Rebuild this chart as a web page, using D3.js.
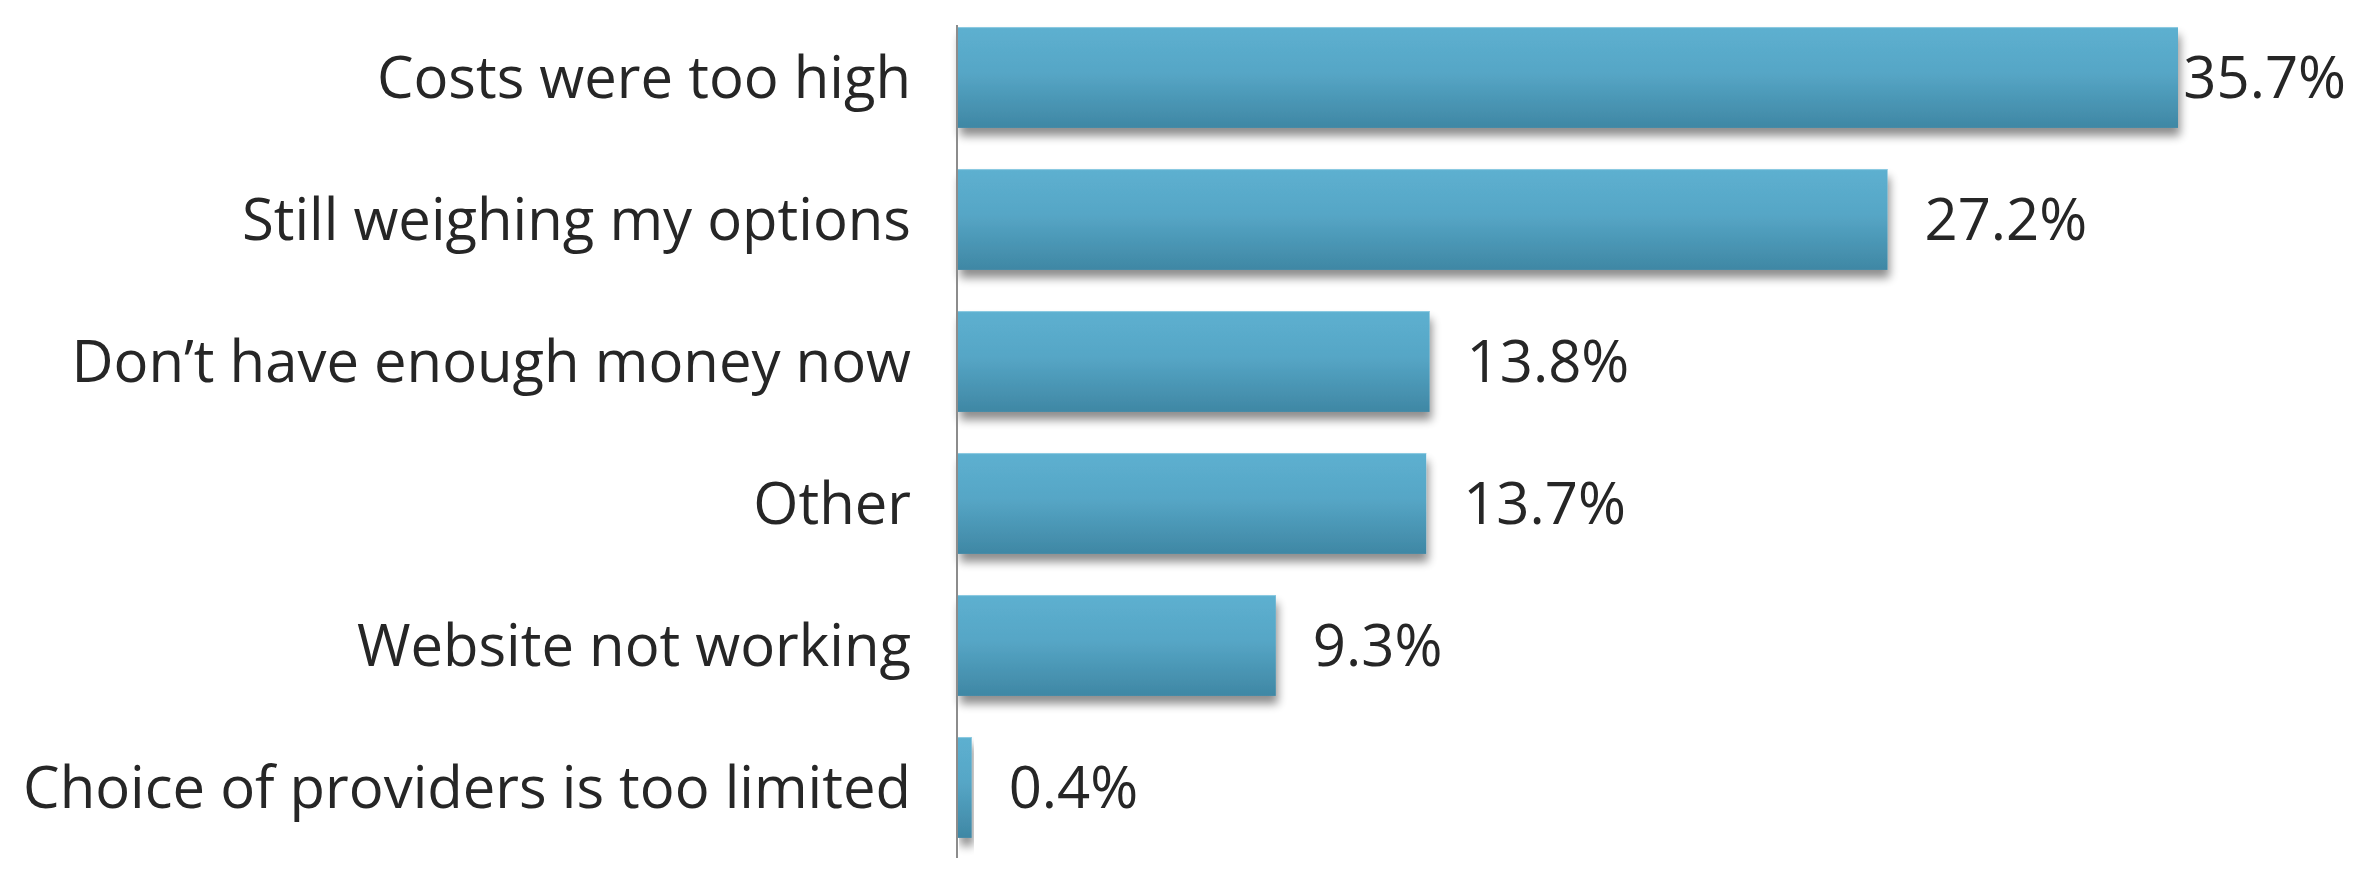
<!DOCTYPE html>
<html>
<head>
<meta charset="utf-8">
<script src="https://cdn.jsdelivr.net/npm/d3@7"></script>
<style>
  html, body { margin: 0; padding: 0; background: #ffffff; }
  svg { display: block; }
</style>
</head>
<body>
<svg id="chart" width="2368" height="882"></svg>
<script>
// ---- data ----
const categories = [
  "Costs were too high",
  "Still weighing my options",
  "Don\u2019t have enough money now",
  "Other",
  "Website not working",
  "Choice of providers is too limited"
];
const values = [35.7, 27.2, 13.8, 13.7, 9.3, 0.4];
const valueLabels = ["35.7%", "27.2%", "13.8%", "13.7%", "9.3%", "0.4%"];

// ---- layout ----
const W = 2368, H = 882;
const axisX = 958;
const svg = d3.select("#chart");

const x = d3.scaleLinear().domain([0, 35.7]).range([axisX, 2178]);
const y = d3.scaleBand().domain(categories).range([6.5, 858.5])
  .paddingInner(0.29).paddingOuter(0.145);

const defs = svg.append("defs");
const grad = defs.append("linearGradient").attr("id", "barGrad")
  .attr("x1", 0).attr("y1", 0).attr("x2", 0).attr("y2", 1);
grad.append("stop").attr("offset", "0%").attr("stop-color", "#5db0d0");
grad.append("stop").attr("offset", "45%").attr("stop-color", "#56a6c6");
grad.append("stop").attr("offset", "100%").attr("stop-color", "#3f87a4");

const f = defs.append("filter").attr("id", "shadow")
  .attr("x", "-5%").attr("y", "-20%").attr("width", "115%").attr("height", "150%");
f.append("feGaussianBlur").attr("in", "SourceAlpha").attr("stdDeviation", 5).attr("result", "b");
f.append("feOffset").attr("in", "b").attr("dx", 2).attr("dy", 8).attr("result", "o");
f.append("feComponentTransfer").attr("in", "o").attr("result", "oa")
  .append("feFuncA").attr("type", "linear").attr("slope", 0.45);
const fm = f.append("feMerge");
fm.append("feMergeNode").attr("in", "oa");
fm.append("feMergeNode").attr("in", "SourceGraphic");

const data = categories.map((c, i) => ({ c, v: values[i], label: valueLabels[i] }));

// bars
svg.append("g").selectAll("rect").data(data).join("rect")
  .attr("x", x(0))
  .attr("y", d => y(d.c))
  .attr("width", d => x(d.v) - x(0))
  .attr("height", y.bandwidth())
  .attr("fill", "url(#barGrad)")
  .attr("filter", "url(#shadow)");

// top highlight line on bars
svg.append("g").selectAll("line").data(data).join("line")
  .attr("x1", x(0)).attr("x2", d => x(d.v))
  .attr("y1", d => y(d.c) + 0.5).attr("y2", d => y(d.c) + 0.5)
  .attr("stroke", "#8fcbe2").attr("stroke-width", 1);

// axis (category)
const yAxis = d3.axisLeft(y).tickSize(0).tickPadding(46);
const gAxis = svg.append("g").attr("transform", `translate(${axisX - 1},0)`).call(yAxis);
gAxis.select(".domain").remove();
gAxis.selectAll("text")
  .attr("font-family", "'Open Sans', sans-serif")
  .attr("font-size", 58)
  .attr("fill", "#262626")
  .attr("dy", "0.36em");

svg.append("line")
  .attr("x1", axisX - 1).attr("x2", axisX - 1)
  .attr("y1", 25).attr("y2", 858)
  .attr("stroke", "#8c8c8c").attr("stroke-width", 2);

// value labels
const vl = svg.append("g").selectAll("text").data(data).join("text")
  .attr("font-family", "'Open Sans', sans-serif")
  .attr("font-size", 58)
  .attr("fill", "#262626")
  .attr("y", d => y(d.c) + y.bandwidth() / 2)
  .attr("dy", "0.36em")
  .text(d => d.label);
vl.attr("x", function(d) {
  const w = this.getComputedTextLength();
  return Math.min(x(d.v) + 37, 2346 - w);
});
</script>
</body>
</html>
